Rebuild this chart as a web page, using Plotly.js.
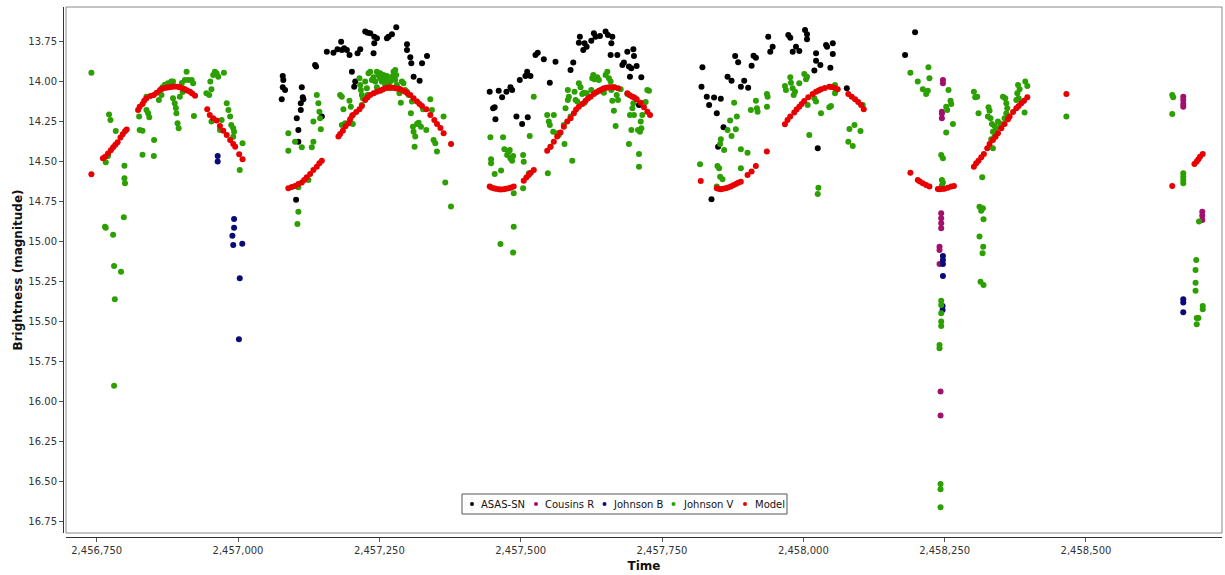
<!DOCTYPE html>
<html>
<head>
<meta charset="utf-8">
<script src="https://cdn.plot.ly/plotly-3.0.1.min.js"></script>
<style>html,body{margin:0;padding:0;background:#fff;}#chart{width:1225px;height:575px;}</style>
</head>
<body>
<div id="chart"></div>
<script>
// ---- Data (Julian Date, magnitude) ----
const seriesNames = ["ASAS-SN", "Cousins R", "Johnson B", "Johnson V", "Model"];

const asasT = [2457079.1,2457080.1,2457079.1,2457083.2,2457077.3,2457112.8,2457114.5,2457115.6,2457111,2457111,2457103.9,2457106.7,2457106.7,2457102.7,2457136.3,2457138.1,2457148.2,2457157.1,2457168.8,2457175.9,2457182.4,2457183.7,2457187.8,2457192.5,2457197.2,2457201.4,2457207.3,2457205.5,2457211.4,2457216.2,2457225,2457229.1,2457233.9,2457241,2457245.7,2457239.7,2457241,2457263.4,2457266.3,2457272.3,2457279.9,2457298.9,2457298.9,2457304.7,2457306.5,2457310.6,2457321.2,2457325.5,2457334.3,
2457445.2,2457461.1,2457467.2,2457474.8,2457481.9,2457484.9,2457451.2,2457454,2457455.3,2457492.5,2457502.6,2457512.5,2457498.4,2457508.4,2457511.5,2457517.3,2457526.2,2457530.2,2457540.9,2457551.5,2457561.6,2457588.2,2457593,2457604.7,2457602.9,2457613,2457610.7,2457616.6,2457624.9,2457629.5,2457632.5,2457640.2,2457650.2,2457654.3,2457662.1,2457660.4,2457659.1,2457671,2457679.9,2457682.6,2457688.6,2457691.5,2457695.7,2457699.3,2457700.4,2457705.1,2457713.4,2457693.3,2457709.2,
2457821.5,2457819.8,2457829.2,2457833.3,2457842.1,2457854,2457846.9,2457858.8,2457849.2,2457837.5,2457865.9,2457873,2457879.4,2457884.7,2457889.5,2457895.4,2457902.4,2457908.5,2457912,2457916.1,2457937.9,2457945.7,2457941.5,2457973.4,2457976.9,2457981.2,2457987,2457992.9,2458003,2458006.5,2458006.5,2458022.5,2458022.5,2458019.5,2458030.1,2458040.2,2458042,2458052.1,2458052.1,2458047.8,2458076.9,2458025.5,
2458197.7,2458180];
const asasM = [13.965,13.99,14.035,14.052,14.11,14.035,14.098,14.11,14.135,14.177,14.229,14.303,14.376,14.74,13.896,13.906,14.219,13.813,13.819,13.798,13.75,13.802,13.791,13.802,13.833,13.938,14.0,14.032,13.823,13.798,13.687,13.694,13.697,13.719,13.729,13.823,13.76,13.729,13.719,13.704,13.66,13.766,13.802,13.848,13.885,13.969,13.994,13.885,13.84,
14.063,14.057,14.098,14.063,14.035,14.052,14.167,14.16,14.236,14.219,14.265,14.223,13.99,13.965,13.938,13.965,13.833,13.819,13.86,14.007,13.875,13.927,13.881,13.719,13.756,13.76,13.802,13.781,13.744,13.697,13.719,13.714,13.687,13.708,13.719,13.76,13.833,13.833,13.896,13.881,13.813,13.906,13.917,13.798,13.84,13.902,13.973,13.969,14.146,
13.91,14.032,14.094,14.146,14.1,14.107,14.198,14.286,14.407,14.736,13.969,13.994,13.84,13.879,14.032,13.994,14.038,13.9,13.838,13.85,13.719,13.781,13.813,13.708,13.725,13.813,13.781,13.808,13.677,13.704,13.735,13.823,13.869,13.931,13.896,13.771,13.781,13.76,13.827,13.913,14.042,14.417,
13.691,13.833];

const cousT = [2458246.9,2458246.9,2458245.1,2458245.1,2458245.1,2458243.9,2458243.9,2458243.9,2458243.9,2458240.9,2458240.9,2458240.9,2458242.7,2458242.7,
2458672.1,2458672.1,2458672.1,2458672.1,2458705.7,2458705.7,2458705.7];
const cousM = [13.99,14.01,14.188,14.2,14.23,14.824,14.855,14.886,14.918,15.033,15.054,15.141,15.94,16.09,
14.094,14.115,14.14,14.157,14.814,14.84,14.866];

const jbT = [2456964,2456964,2456993,2456993,2456990,2456991.5,2457007.5,2457003,2457001.6,
2458246.9,2458246.9,2458246.9,2458246.9,2458246.3,2458246.3,
2458672.1,2458672.1,2458672.1];
const jbM = [14.465,14.5,14.86,14.914,14.964,15.022,15.014,15.23,15.612,
15.091,15.116,15.141,15.216,15.404,15.429,
15.362,15.383,15.444];

const jvT = [2456740.6,2456771.8,2456774.3,2456783.7,2456766,2456770,2456799,2456799,2456800,2456798,2456764.7,2456766,2456779,2456780.7,2456793,2456782,2456780.7,2456825,2456826,2456831,2456831,2456838,2456838,2456841,2456843,2456851.5,2456851,2456860,2456864.6,2456866,2456870.5,2456876,2456882,2456885,2456885,2456888,2456890,2456891,2456893,2456895,2456897,2456902,2456900.6,2456909,2456906,2456912,2456918,2456920.6,2456922,2456944,2456949,2456953,2456951,2456956,2456959,2456962,2456965,2456975,2456953,2456968,2456971,2456980,2456983,2456986,2456988,2456991.5,2456993,2456991.5,2457008,2457003,
2457089,2457089,2457100.9,2457112.8,2457106.7,2457106.7,2457105,2457124.5,2457130.5,2457133.3,2457133.3,2457139.3,2457142.1,2457143.9,2457145.1,2457146.4,2457180.6,2457183.6,2457186.4,2457189.4,2457197.1,2457199.5,2457201.3,2457203.1,2457214.8,2457216,2457217.3,2457219,2457220.8,2457224.9,2457227.9,2457229,2457230.8,2457233.8,2457239.7,2457245.6,2457248.4,2457251.4,2457254.4,2457257.2,2457260.3,2457263.3,2457266.1,2457269.2,2457272.2,2457275,2457278.1,2457279.8,2457281,2457283.8,2457285.5,2457289.8,2457292.6,2457295.8,2457298.8,2457301.6,2457305.8,2457309.4,2457310.5,2457313.5,2457312.3,2457316.5,2457319.4,2457323.6,2457327.2,2457333,2457340.1,2457343,2457345.9,2457348.9,2457351.9,2457363.6,2457366.6,2457376.7,2457288,2457307.5,2457219,2457183.6,2457236.8,2457242.6,2457251.4,2457257.2,2457263.3,2457269.2,2457278.1,2457245.6,
2457446.4,2457447.6,2457447.6,2457454,2457468.8,2457471.2,2457465.3,2457476,2457478.8,2457481.8,2457484.8,2457486.6,2457480.6,2457487.7,2457487.7,2457464.2,2457486.6,2457504.3,2457505.4,2457504.3,2457514.3,2457516,2457523.1,2457546.9,2457549.7,2457551.5,2457552.7,2457548,2457558.6,2457557.5,2457564.6,2457567.4,2457576.3,2457577.5,2457579.3,2457583.4,2457583.4,2457585.2,2457588.2,2457591.2,2457595.3,2457597.1,2457600.1,2457602.9,2457605.9,2457608.9,2457611.7,2457613,2457616.5,2457624.9,2457626.6,2457628.4,2457630.7,2457635.5,2457638.3,2457641.3,2457647.2,2457650.2,2457653.2,2457656,2457659.1,2457660.3,2457662.1,2457664.9,2457666.2,2457668,2457669.8,2457672.1,2457676.9,2457688.7,2457691.5,2457693.3,2457695.8,2457697.6,2457699.3,2457700.4,2457707.5,2457711,2457713.5,2457712.3,2457709.3,2457709.3,2457724,2457726.9,2457721.1,2457715.2,
2457817.3,2457848.1,2457851,2457852.8,2457857,2457846.9,2457859.9,2457854,2457852.8,2457865.9,2457870.5,2457873,2457880.6,2457882.4,2457877.6,2457889.5,2457889.5,2457901.3,2457907.2,2457916.1,2457917.9,2457919.1,2457935.6,2457936.8,2457935.6,2457967.5,2457969.2,2457976.9,2457978.1,2457981.1,2457982.9,2457985.2,2457992.8,2458001.7,2458004.7,2458006.5,2458007.7,2458010.5,2458019.4,2458022.4,2458031.2,2458045.9,2458048.9,2458056,2458056,2458057.8,2458026.7,2458025.5,2458081.6,2458090.5,2458101.1,2458079.6,2458087.4,2458105.1,
2458189.4,2458202.4,2458211.3,2458217.2,2458220.2,2458221.3,2458223.1,2458243.9,2458246.9,2458245.1,2458246.9,2458252.7,2458254.5,2458256.8,2458260.4,2458261.6,2458264.6,2458252.7,2458243.9,2458243.9,2458243.9,2458243.9,2458243.9,2458240.9,2458240.9,2458242.7,2458242.7,2458242.7,2458245.1,2458245.1,
2458301.7,2458304,2458307.6,2458309.9,2458327.6,2458329.4,2458326.5,2458331.1,2458333.6,2458338.2,2458341.2,2458335.4,2458332.3,2458335.4,2458338.2,2458344.3,2458348.9,2458353.1,2458357.2,2458359,2458360.7,2458359,2458356,2458362,2458379.8,2458382.6,2458378.5,2458380.8,2458376.8,2458392.6,2458396.2,2458391.4,2458316.4,2458311.6,2458317.6,2458314.6,2458318.7,2458311.6,2458318.2,2458317,2458313.4,2458318.7,
2458465.3,
2458652.6,2458654.3,2458652.6,2458672.1,2458672.1,2458672.1,2458672.1,2458699.9,2458695,2458693.8,2458693.8,2458693.8,2458706.5,2458706.5,2458695.9,2458698.9,2458695.9];
const jvM = [13.944,14.205,14.24,14.309,14.505,14.465,14.526,14.605,14.636,14.849,14.908,14.914,14.958,15.154,15.19,15.362,15.903,14.219,14.303,14.307,14.457,14.094,14.177,14.198,14.223,14.365,14.465,14.115,14.083,14.035,14.02,14.01,14.0,14.0,14.104,14.135,14.165,14.198,14.26,14.292,14.094,14.065,14.008,13.938,13.99,13.99,13.99,14.01,14.215,14.073,14.083,14.048,14.0,13.958,13.938,13.948,13.969,13.944,14.25,14.303,14.24,14.135,14.177,14.219,14.271,14.292,14.313,14.345,14.386,14.553,
14.323,14.432,14.376,14.411,14.661,14.814,14.891,14.615,14.411,14.376,14.25,14.083,14.135,14.188,14.229,14.298,14.083,14.094,14.173,14.261,14.119,14.157,14.215,14.265,13.979,14.021,14.052,14.083,14.104,14.0,14.042,14.083,13.948,13.938,13.973,13.938,13.958,13.979,14.0,13.99,14.021,13.99,14.01,14.042,13.969,13.938,13.927,13.958,14.021,14.042,14.073,14.0,14.01,14.052,14.063,14.083,14.198,14.282,14.313,14.344,14.407,14.265,14.257,14.282,14.173,14.303,14.11,14.177,14.365,14.386,14.438,14.219,14.632,14.782,14.132,14.125,14.146,14.271,13.99,14.0,13.948,13.958,13.965,14.0,13.99,14.035,
14.348,14.486,14.511,14.578,14.348,14.423,14.557,14.459,14.438,14.48,14.495,14.465,14.428,14.699,14.908,15.016,15.07,14.459,14.501,14.667,14.574,14.34,14.094,14.209,14.25,14.271,14.407,14.574,14.209,14.313,14.323,14.334,14.271,14.39,14.167,14.052,14.115,14.094,14.219,14.495,14.063,14.115,14.125,14.01,14.035,14.077,14.069,14.132,14.073,14.052,13.979,13.958,13.985,13.973,13.99,14.057,14.069,13.958,13.938,13.979,14.0,14.052,14.119,14.182,14.035,14.277,14.083,14.115,14.048,14.077,14.39,14.209,14.303,14.167,14.135,14.209,14.303,14.313,14.292,14.25,14.453,14.532,14.052,14.057,14.127,14.209,
14.517,14.528,14.542,14.595,14.611,14.657,14.428,14.361,14.39,14.303,14.244,14.34,14.298,14.219,14.132,14.423,14.542,14.445,14.177,14.119,14.167,14.188,14.077,14.094,14.157,14.027,14.052,13.973,14.007,14.042,14.083,14.063,14.01,13.952,13.985,13.969,14.146,14.334,14.104,14.125,14.198,14.161,14.152,14.021,14.073,14.052,14.664,14.703,14.296,14.271,14.309,14.376,14.403,14.146,
13.944,14.0,14.048,14.077,14.057,13.91,13.979,14.459,14.48,14.615,14.632,14.157,14.177,14.052,14.119,14.14,14.265,14.319,15.371,15.398,15.45,15.502,15.529,15.648,15.669,16.518,16.551,16.664,14.65,14.665,
14.063,14.098,14.094,14.198,14.161,14.182,14.219,14.229,14.265,14.277,14.292,14.313,14.361,14.417,14.345,14.25,14.265,14.094,14.104,14.135,14.167,14.198,14.229,14.219,14.021,14.048,14.073,14.104,14.115,14.0,14.027,14.194,14.599,14.783,14.793,14.808,14.861,14.97,15.033,15.074,15.252,15.273,
14.219,
14.083,14.098,14.202,14.574,14.595,14.616,14.636,14.876,15.116,15.179,15.258,15.308,15.404,15.425,15.48,15.48,15.518];

const modT = [2456740.6,2456761,2456765,2456770,2456775,2456779,2456783,2456787,2456792,2456796,2456800,2456803,
2456823.2,2456826,2456831,2456834,2456838,2456845,2456851,2456856,2456862,2456866,2456870.5,2456875,2456879,2456884,2456888,2456893,2456897,2456902,2456906,2456910,2456915,2456919,2456924,
2456945.5,2456950,2456956,2456962,2456968,2456974,2456980,2456986,2456991.5,2456995,2457002,2457008,
2457089,2457095,2457100.9,2457106.7,2457112.8,2457117,2457121.6,2457127.5,2457133.3,2457139.3,2457143.9,2457148.2,
2457177.6,2457180.6,2457185.4,2457190,2457195.3,2457198.3,2457203.1,2457209,2457214.8,2457219,2457224.9,2457229,2457233.8,2457240,2457245.6,2457251.5,2457256,2457260.4,2457265,2457269.2,2457274,2457278.1,2457283,2457287,2457291,2457295.8,2457300,2457304.7,2457310.5,2457316.6,2457321,2457325.4,2457333.1,2457340.1,2457347.2,2457352,2457358,2457363.7,2457376.8,
2457445.2,2457448,2457452.3,2457456,2457461.1,2457465,2457470,2457474,2457478.9,2457483,2457487.7,2457505.4,2457510,2457514.3,2457518,2457523.2,
2457546.9,2457552.8,2457558.6,2457564.6,2457570.5,2457576.3,2457582.4,2457588.2,2457594.1,2457598,2457602.9,2457609,2457614.8,2457619,2457623.7,2457629.5,2457634,2457638.4,2457643,2457647.3,2457652,2457656.1,2457661,2457665,2457672.1,2457688.7,2457693,2457697.6,2457701,2457705.2,2457712.4,2457718.1,2457724.1,2457728.8,
2457818.5,2457846.9,2457850,2457854,2457858,2457862.8,2457867,2457871.7,2457876,2457880.6,2457885,2457889.4,2457901.3,2457908.4,2457916,2457935.5,
2457967.4,2457972,2457976.8,2457983.9,2457988,2457992.8,2457997,2458001.6,2458008.7,2458016.5,2458022.4,2458027,2458031.2,2458038,2458045.9,2458050,2458054.8,2458060.8,2458079.6,2458085.6,2458091.5,2458097,2458102.1,2458106.9,
2458189.4,2458202.5,2458206,2458211.4,2458217.2,2458223.1,2458238,2458240.8,2458245,2458249.7,2458255.7,2458261.6,2458266.4,
2458301.7,2458305.8,2458309.9,2458314.7,2458319.4,2458325.3,2458329.4,2458335.4,2458340,2458344.3,2458350.2,2458356,2458362.1,2458364.9,2458371,2458376.8,2458380.8,2458385.6,2458390.4,2458396.2,
2458465.3,
2458652.6,2458691.8,2458695.9,2458698.9,2458701.7,2458706.5];
const modM = [14.58,14.48,14.47,14.45,14.43,14.41,14.395,14.38,14.35,14.33,14.31,14.30,
14.177,14.157,14.14,14.12,14.104,14.09,14.083,14.07,14.052,14.045,14.04,14.037,14.035,14.032,14.03,14.032,14.035,14.042,14.048,14.055,14.063,14.075,14.088,
14.173,14.209,14.23,14.244,14.277,14.307,14.334,14.365,14.39,14.407,14.455,14.486,
14.667,14.66,14.653,14.64,14.632,14.615,14.599,14.578,14.553,14.532,14.511,14.495,
14.344,14.328,14.307,14.28,14.261,14.236,14.209,14.19,14.173,14.152,14.115,14.1,14.083,14.072,14.063,14.057,14.05,14.042,14.038,14.035,14.038,14.042,14.045,14.048,14.055,14.063,14.072,14.083,14.104,14.125,14.14,14.152,14.173,14.209,14.24,14.265,14.29,14.323,14.39,
14.657,14.662,14.667,14.671,14.674,14.675,14.674,14.671,14.667,14.663,14.657,14.62,14.6,14.584,14.57,14.553,
14.432,14.407,14.376,14.344,14.319,14.282,14.25,14.229,14.198,14.175,14.157,14.14,14.119,14.105,14.094,14.077,14.066,14.057,14.05,14.042,14.038,14.035,14.035,14.035,14.042,14.073,14.085,14.094,14.1,14.11,14.132,14.161,14.188,14.209,
14.622,14.667,14.671,14.674,14.671,14.667,14.662,14.657,14.648,14.64,14.633,14.626,14.584,14.563,14.528,14.438,
14.267,14.24,14.219,14.194,14.175,14.157,14.14,14.121,14.098,14.077,14.063,14.055,14.048,14.04,14.032,14.034,14.038,14.048,14.077,14.094,14.11,14.128,14.146,14.173,
14.57,14.615,14.625,14.636,14.647,14.657,14.672,14.674,14.672,14.67,14.664,14.657,14.653,
14.532,14.511,14.495,14.473,14.453,14.417,14.39,14.365,14.345,14.323,14.292,14.265,14.236,14.219,14.19,14.167,14.152,14.135,14.119,14.098,
14.077,
14.653,14.515,14.5,14.486,14.47,14.453];

const colors = {"ASAS-SN":"#000000","Cousins R":"#a0106c","Johnson B":"#0a0a78","Johnson V":"#2ba000","Model":"#e80000"};

const xTickStart = 2456750, xTickStep = 250;
const yTickStep = 0.25;

function tr(name, t, m) {
  return {type:"scatter", mode:"markers", name:name, x:t, y:m, showlegend:false,
    marker:{color:colors[name], size:6, line:{width:0}}, hoverinfo:"x+y+name"};
}

const data = [
  tr(seriesNames[0], asasT, asasM),
  tr(seriesNames[1], cousT, cousM),
  tr(seriesNames[2], jbT, jbM),
  tr(seriesNames[3], jvT, jvM),
  tr(seriesNames[4], modT, modM)
];

// Margins (px) -> paper conversion helpers for the boxed legend
const ML = 63, MR = 3, MT = 7, MB = 38, W = 1225, H = 575;
const PW = W - ML - MR, PH = H - MT - MB;
const px2x = px => (px - ML) / PW;
const py2y = py => (H - MB - py) / PH;

const legendDotPx = [472, 536, 604.5, 673.5, 745];
const legendTextPx = [479, 543, 611, 681, 753];
const legendMidPy = 504;

const shapes = [
  {type:"rect", xref:"paper", yref:"paper", x0:0.0026, x1:1, y0:0.0075, y1:1,
    line:{color:"#8a8a8a", width:1}, fillcolor:"rgba(0,0,0,0)", layer:"above"},
  {type:"rect", xref:"paper", yref:"paper", x0:px2x(462), x1:px2x(787), y0:py2y(514), y1:py2y(494),
    line:{color:"#555", width:1}, fillcolor:"#ffffff", layer:"above"}
];
const annotations = [];
seriesNames.forEach((n, i) => {
  shapes.push({type:"circle", xref:"paper", yref:"paper", xsizemode:"pixel", ysizemode:"pixel",
    xanchor:px2x(legendDotPx[i]), yanchor:py2y(legendMidPy), x0:-2, x1:2, y0:-2, y1:2,
    fillcolor:colors[n], line:{width:0}, layer:"above"});
  annotations.push({xref:"paper", yref:"paper", x:px2x(legendTextPx[i]), y:py2y(legendMidPy),
    xanchor:"left", yanchor:"middle", showarrow:false, text:n,
    font:{family:"DejaVu Sans, Verdana, sans-serif", size:10, color:"#111"}});
});

const tickFont = {family:"DejaVu Sans, Verdana, sans-serif", size:10, color:"#333"};
const layout = {
  width:W, height:H,
  margin:{l:ML, r:MR, t:MT, b:MB},
  paper_bgcolor:"#ffffff", plot_bgcolor:"#ffffff",
  showlegend:false,
  xaxis:{range:[2456695.7, 2458740.6], domain:[0.0026,1], anchor:"free", position:0,
    showgrid:false, zeroline:false, showline:true, linecolor:"#333", linewidth:1,
    ticks:"outside", ticklen:4, tickcolor:"#555", tick0:xTickStart, dtick:xTickStep,
    tickformat:",d", tickfont:tickFont,
    title:{text:"<b>Time</b>", font:{family:"DejaVu Sans, Verdana, sans-serif", size:12, color:"#111"}, standoff:6}},
  yaxis:{range:[16.825, 13.533], domain:[0.0075,1], anchor:"free", position:0,
    showgrid:false, zeroline:false, showline:true, linecolor:"#333", linewidth:1,
    ticks:"outside", ticklen:4, tickcolor:"#555", dtick:yTickStep, tick0:13.75,
    tickformat:".2f", tickfont:tickFont,
    title:{text:"<b>Brightness (magnitude)</b>", font:{family:"DejaVu Sans, Verdana, sans-serif", size:12, color:"#111"}, standoff:2}},
  shapes:shapes,
  annotations:annotations
};

Plotly.newPlot("chart", data, layout, {displayModeBar:false, staticPlot:true});
</script>
</body>
</html>
